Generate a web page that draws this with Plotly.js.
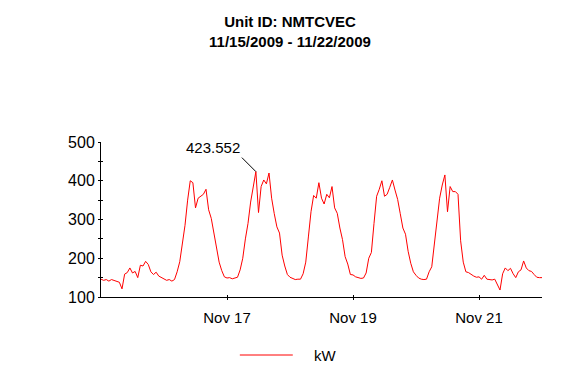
<!DOCTYPE html>
<html>
<head>
<meta charset="utf-8">
<script src="https://cdn.plot.ly/plotly-3.0.1.min.js"></script>
<style>html,body{margin:0;padding:0;background:#fff;}#chart{width:580px;height:380px;}</style>
</head>
<body>
<div id="chart"></div>
<script>
// Hourly kW readings, Unit NMTCVEC, 11/15/2009 00:00 - 11/22/2009 00:00
const startDate = '2009-11-15';
const kwNov15 = [146,143,145,141,145,143,142,138,121,159,163,175,162,166,150,182,180,192,184,165,158,164,154,150];
const kwNov16 = [147,143,145,141,145,165,191,240,285,350,400,395,330,355,360,365,378,325,303,262,226,190,168,152];
const kwNov17 = [149,150,147,150,151,170,200,250,290,345,385,423.552,318,385,402,392,420,355,315,281,265,208,180,158];
const kwNov18 = [151,148,145,146,146,160,190,255,320,362,355,395,355,340,365,356,385,330,316,278,248,204,185,158];
const kwNov19 = [157,152,149,148,149,162,200,215,290,360,378,400,360,365,383,402,376,352,315,278,262,218,187,165];
const kwNov20 = [156,149,146,145,146,165,178,235,305,355,389,415,320,385,372,372,365,245,190,165,163,158,154,151];
const kwNov21 = [152,146,156,146,144,144,146,132,118,160,175,168,174,160,150,165,170,193,175,168,166,158,151,150];
const kwNov22 = [150];

const yTickVals = [100,200,300,400,500];
const xTickVals = ['2009-11-17','2009-11-19','2009-11-21'];
const xTickText = ['Nov 17','Nov 19','Nov 21'];
const seriesName = 'kW';
const titleLines = ['Unit ID: NMTCVEC','11/15/2009 - 11/22/2009'];

const kw = [].concat(kwNov15,kwNov16,kwNov17,kwNov18,kwNov19,kwNov20,kwNov21,kwNov22);
const t0 = new Date(startDate + 'T00:00:00Z').getTime();
function fmt(ms){
  const d = new Date(ms);
  const p = n => String(n).padStart(2,'0');
  return d.getUTCFullYear()+'-'+p(d.getUTCMonth()+1)+'-'+p(d.getUTCDate())+' '+p(d.getUTCHours())+':'+p(d.getUTCMinutes());
}
const times = kw.map((v,i)=>fmt(t0 + i*3600000));
let maxI = 0; kw.forEach((v,i)=>{ if(v>kw[maxI]) maxI=i; });

const fam = 'Liberation Sans, Arial, sans-serif';
const font16 = {family:fam, size:16, color:'#000'};
const font15 = {family:fam, size:15, color:'#000'};

const trace = {
  x: times, y: kw, type:'scatter', mode:'lines', name: seriesName,
  line:{color:'#ff0000', width:1}, showlegend:false, hoverinfo:'skip'
};

const layout = {
  width:580, height:380,
  margin:{l:101, r:37.5, t:142, b:83, pad:0},
  paper_bgcolor:'#fff', plot_bgcolor:'#fff',
  font: font15,
  showlegend:false,
  title:{
    text: '<b>'+titleLines.join('<br>')+'</b>',
    font:{family:fam, size:15, color:'#000'},
    x:0.5, xref:'container', xanchor:'center',
    y:1-27/380, yref:'container', yanchor:'top'
  },
  xaxis:{
    type:'date', range:['2009-11-15 00:00','2009-11-22 00:00'],
    tickvals:xTickVals, ticktext:xTickText,
    ticks:'outside', ticklen:2, tickcolor:'#000', tickwidth:1,
    showline:true, linecolor:'#000', linewidth:1,
    showgrid:false, zeroline:false, ticklabelstandoff:5,
    tickfont:font15, fixedrange:true
  },
  yaxis:{
    range:[100,500], tickvals:yTickVals,
    ticks:'outside', ticklen:2, tickcolor:'#000', tickwidth:1,
    minor:{ticks:'outside', ticklen:2, dtick:50, tick0:100, tickcolor:'#000', showgrid:false},
    showline:true, linecolor:'#000', linewidth:1,
    showgrid:false, zeroline:false, ticklabelstandoff:0,
    tickfont:font16, fixedrange:true
  },
  xaxis2:{
    type:'date', overlaying:'x', anchor:'y', range:['2009-11-15 00:00','2009-11-22 00:00'],
    tickvals:xTickVals, ticks:'inside', ticklen:2, tickcolor:'#000', showticklabels:false,
    showline:false, showgrid:false, zeroline:false, fixedrange:true
  },
  yaxis2:{
    overlaying:'y', anchor:'x', range:[100,500], tickvals:[100,150,200,250,300,350,400,450,500],
    ticks:'inside', ticklen:2, tickcolor:'#000', showticklabels:false,
    showline:false, showgrid:false, zeroline:false, fixedrange:true
  },
  annotations:[
    {
      x: times[maxI], y: kw[maxI], xref:'x', yref:'y',
      text: String(kw[maxI]), showarrow:true, arrowhead:0, arrowwidth:1, arrowcolor:'#000',
      ax:-14, ay:-14, xanchor:'right', yanchor:'bottom',
      font: font15
    },
    {
      x:(312-101)/441.5, y:(297-355.5)/155, xref:'paper', yref:'paper',
      text: seriesName, showarrow:false, xanchor:'left', yanchor:'middle', font: font15
    }
  ],
  shapes:[
    {type:'line', xref:'paper', yref:'paper', x0:(240-101)/441.5, x1:(293-101)/441.5,
     y0:(297-355)/155, y1:(297-355)/155, line:{color:'#ff0000', width:1}}
  ]
};

const ghost = {x:[times[0]], y:[kw[0]], xaxis:'x2', yaxis:'y2', type:'scatter', mode:'lines',
  line:{width:0}, showlegend:false, hoverinfo:'skip'};

Plotly.newPlot('chart', [trace, ghost], layout, {staticPlot:true, displayModeBar:false});
</script>
</body>
</html>
